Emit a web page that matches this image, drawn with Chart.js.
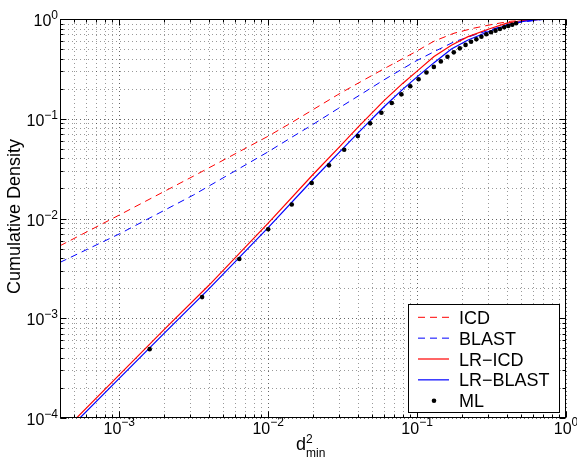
<!DOCTYPE html>
<html>
<head>
<meta charset="utf-8">
<script src="https://cdn.jsdelivr.net/npm/chart.js@4"></script>
<style>
  html, body { margin: 0; padding: 0; background: #fff; }
  canvas { display: block; }
</style>
</head>
<body>
<canvas id="cdf" width="577" height="466"></canvas>
<script>
// tick labels (log axes, shown as 10^exp)
const xTicks = [1e-3, 1e-2, 1e-1, 1];
const xTickExp = ['\u22123', '\u22122', '\u22121', '0'];
const yTicks = [1e-4, 1e-3, 1e-2, 1e-1, 1];
const yTickExp = ['\u22124', '\u22123', '\u22122', '\u22121', '0'];

// ICD (dashed red)
const icdX = [0.0004, 0.00102, 0.00315, 0.00984, 0.0141, 0.0203, 0.0291, 0.0418, 0.063, 0.0953, 0.13, 0.177, 0.241, 0.329, 0.426, 0.68, 1.0];
const icdY = [0.00533, 0.0110, 0.0266, 0.066, 0.090, 0.125, 0.173, 0.235, 0.33, 0.46, 0.60, 0.72, 0.81, 0.89, 0.95, 0.99, 1.0];

// BLAST (dashed blue)
const blastX = [0.0004, 0.00102, 0.00315, 0.00984, 0.0141, 0.0203, 0.0291, 0.0418, 0.0598, 0.0953, 0.13, 0.177, 0.241, 0.329, 0.426, 0.70, 1.0];
const blastY = [0.00363, 0.0071, 0.0172, 0.046, 0.064, 0.089, 0.125, 0.175, 0.245, 0.37, 0.47, 0.59, 0.69, 0.80, 0.90, 0.99, 1.0];

// LR-ICD / LR-BLAST (solid)
const lrX = [0.0004, 0.001, 0.002, 0.004, 0.01, 0.02, 0.03, 0.04, 0.06, 0.08, 0.1, 0.13, 0.17, 0.22, 0.3, 0.4, 0.5, 0.65, 0.8, 1.0];
const lrIcdY = [0.000068, 0.000271, 0.00077, 0.00214, 0.00897, 0.0276, 0.052, 0.082, 0.152, 0.226, 0.30, 0.42, 0.545, 0.665, 0.79, 0.91, 0.96, 0.99, 0.998, 1.0];
const lrBlastY = [0.000063, 0.00025, 0.000705, 0.00197, 0.0081, 0.0246, 0.046, 0.0717, 0.132, 0.197, 0.263, 0.365, 0.50, 0.615, 0.745, 0.87, 0.94, 0.985, 0.997, 1.0];

// ML (black dots)
const mlX = [0.0016, 0.0036, 0.0064, 0.01, 0.0144, 0.0196, 0.0256, 0.0324, 0.04, 0.0484, 0.0576, 0.0676, 0.0784, 0.09,
             0.1024, 0.1156, 0.1296, 0.1444, 0.16, 0.1764, 0.1936, 0.2116, 0.2304, 0.25, 0.2704, 0.2916, 0.3136,
             0.3364, 0.36, 0.3844, 0.4096, 0.4356, 0.4624];
const mlY = [0.00049, 0.00163, 0.00392, 0.0078, 0.0138, 0.0227, 0.0341, 0.0489, 0.067, 0.0899, 0.1148, 0.1437, 0.1757, 0.2114,
             0.249, 0.291, 0.331, 0.376, 0.419, 0.463, 0.508, 0.55, 0.592, 0.626, 0.664, 0.703, 0.736,
             0.764, 0.794, 0.826, 0.851, 0.877, 0.906];

const FONT = "'Liberation Sans', Arial, Helvetica, sans-serif";

function pts(xs, ys) {
    return xs.map((x, i) => ({ x: x, y: ys[i] }));
}

// every 1..9 x 10^e between min and max
function logGridValues(min, max) {
    const out = [];
    for (let e = Math.floor(Math.log10(min)); e < Math.round(Math.log10(max)); e++) {
        for (let m = 1; m < 10; m++) {
            const v = m * Math.pow(10, e);
            if (v >= min * 0.999 && v <= max * 1.001) out.push({ v: v, major: m === 1 });
        }
    }
    out.push({ v: max, major: true });
    return out;
}

const matlabAxes = {
    id: 'matlabAxes',
    beforeDatasetsDraw(chart) {
        const { ctx, chartArea: a, scales: { x, y } } = chart;
        ctx.save();
        ctx.lineWidth = 1;
        ctx.setLineDash([1, 3]);
        logGridValues(x.min, x.max).forEach(g => {
            const px = Math.round(x.getPixelForValue(g.v)) + 0.5;
            ctx.strokeStyle = g.major ? 'rgba(0,0,0,0.6)' : 'rgba(0,0,0,0.4)';
            ctx.beginPath(); ctx.moveTo(px, a.top); ctx.lineTo(px, a.bottom); ctx.stroke();
        });
        logGridValues(y.min, y.max).forEach(g => {
            const py = Math.round(y.getPixelForValue(g.v)) + 0.5;
            ctx.strokeStyle = g.major ? 'rgba(0,0,0,0.6)' : 'rgba(0,0,0,0.4)';
            ctx.beginPath(); ctx.moveTo(a.left, py); ctx.lineTo(a.right, py); ctx.stroke();
        });
        ctx.restore();
    },
    afterDatasetsDraw(chart) {
        const { ctx, chartArea: a, scales: { x, y } } = chart;
        ctx.save();
        ctx.setLineDash([]);
        ctx.strokeStyle = '#000';
        ctx.lineWidth = 1;
        const L = Math.round(a.left) + 0.5, R = Math.round(a.right) - 0.5;
        const T = Math.round(a.top) + 0.5, B = Math.round(a.bottom) - 0.5;

        // inward tick marks on all four sides
        ctx.beginPath();
        logGridValues(x.min, x.max).forEach(g => {
            const px = Math.round(x.getPixelForValue(g.v)) + 0.5;
            const len = g.major ? 6 : 3;
            ctx.moveTo(px, B); ctx.lineTo(px, B - len);
            ctx.moveTo(px, T); ctx.lineTo(px, T + len);
        });
        logGridValues(y.min, y.max).forEach(g => {
            const py = Math.round(y.getPixelForValue(g.v)) + 0.5;
            const len = g.major ? 6 : 3;
            ctx.moveTo(L, py); ctx.lineTo(L + len, py);
            ctx.moveTo(R, py); ctx.lineTo(R - len, py);
        });
        ctx.stroke();
        ctx.strokeRect(L, T, R - L, B - T);

        // tick labels
        ctx.fillStyle = '#000';
        ctx.textBaseline = 'alphabetic';
        ctx.textAlign = 'left';
        xTicks.forEach((v, i) => {
            const px = x.getPixelForValue(v);
            ctx.font = '16px ' + FONT;
            const wb = ctx.measureText('10').width;
            ctx.font = '12px ' + FONT;
            const we = ctx.measureText(xTickExp[i]).width;
            const x0 = px - (wb + we) / 2;
            ctx.font = '16px ' + FONT;
            ctx.fillText('10', x0, 434);
            ctx.font = '12px ' + FONT;
            ctx.fillText(xTickExp[i], x0 + wb, 426);
        });
        yTicks.forEach((v, i) => {
            const py = y.getPixelForValue(v);
            ctx.font = '12px ' + FONT;
            const we = ctx.measureText(yTickExp[i]).width;
            ctx.font = '16px ' + FONT;
            const wb = ctx.measureText('10').width;
            const x1 = a.left - 2;
            ctx.fillText('10', x1 - we - wb, py + 7);
            ctx.font = '12px ' + FONT;
            ctx.fillText(yTickExp[i], x1 - we, py);
        });

        // axis titles
        ctx.save();
        ctx.translate(15, (a.top + a.bottom) / 2 - 2);
        ctx.rotate(-Math.PI / 2);
        ctx.textAlign = 'center';
        ctx.textBaseline = 'middle';
        ctx.font = '18px ' + FONT;
        ctx.fillText('Cumulative Density', 0, 0);
        ctx.restore();

        ctx.textAlign = 'left';
        ctx.font = '18px ' + FONT;
        ctx.fillText('d', 296, 450);
        const wd = ctx.measureText('d').width;
        ctx.font = '12px ' + FONT;
        ctx.fillText('2', 296 + wd, 443);
        ctx.fillText('min', 296 + wd, 457);

        // legend
        const lx = 408.5, ly = 304.5, lw = 151, lh = 108;
        ctx.fillStyle = '#fff';
        ctx.fillRect(lx, ly, lw, lh);
        ctx.strokeStyle = '#000';
        ctx.strokeRect(lx, ly, lw, lh);
        chart.data.datasets.forEach((ds, i) => {
            const cy = 317.3 + i * 20.85;
            if (ds.showLine) {
                ctx.strokeStyle = ds.borderColor;
                ctx.lineWidth = ds.borderWidth;
                ctx.setLineDash(ds.borderDash || []);
                ctx.beginPath(); ctx.moveTo(418, cy); ctx.lineTo(449, cy); ctx.stroke();
                ctx.setLineDash([]);
            } else {
                ctx.fillStyle = ds.backgroundColor;
                ctx.beginPath(); ctx.arc(434, cy, ds.pointRadius, 0, Math.PI * 2); ctx.fill();
            }
            ctx.fillStyle = '#000';
            ctx.font = '18px ' + FONT;
            ctx.fillText(ds.label, 459, cy + 6.5);
        });
        ctx.restore();
    }
};

new Chart(document.getElementById('cdf'), {
    type: 'scatter',
    data: {
        datasets: [
            { label: 'ICD', data: pts(icdX, icdY), showLine: true, borderColor: '#ff0000', borderWidth: 1, borderDash: [7, 5], pointRadius: 0, order: 4 },
            { label: 'BLAST', data: pts(blastX, blastY), showLine: true, borderColor: '#0000ff', borderWidth: 1, borderDash: [7, 5], pointRadius: 0, order: 3 },
            { label: 'LR\u2212ICD', data: pts(lrX, lrIcdY), showLine: true, borderColor: '#ff0000', borderWidth: 1.2, pointRadius: 0, order: 2 },
            { label: 'LR\u2212BLAST', data: pts(lrX, lrBlastY), showLine: true, borderColor: '#0000ff', borderWidth: 1.2, pointRadius: 0, order: 1 },
            { label: 'ML', data: pts(mlX, mlY), showLine: false, backgroundColor: '#000', borderColor: '#000', borderWidth: 0, pointRadius: 2.3, order: 0 }
        ]
    },
    options: {
        responsive: false,
        animation: false,
        devicePixelRatio: 1,
        events: [],
        layout: { padding: { top: 19, right: 11, bottom: 0, left: 0 } },
        plugins: { legend: { display: false }, tooltip: { enabled: false } },
        scales: {
            x: {
                type: 'logarithmic', min: 0.0004, max: 1,
                ticks: { display: false }, grid: { display: false }, border: { display: false },
                afterFit: s => { s.height = 48; }
            },
            y: {
                type: 'logarithmic', min: 0.0001, max: 1,
                ticks: { display: false }, grid: { display: false }, border: { display: false },
                afterFit: s => { s.width = 60; }
            }
        }
    },
    plugins: [matlabAxes]
});
</script>
</body>
</html>
